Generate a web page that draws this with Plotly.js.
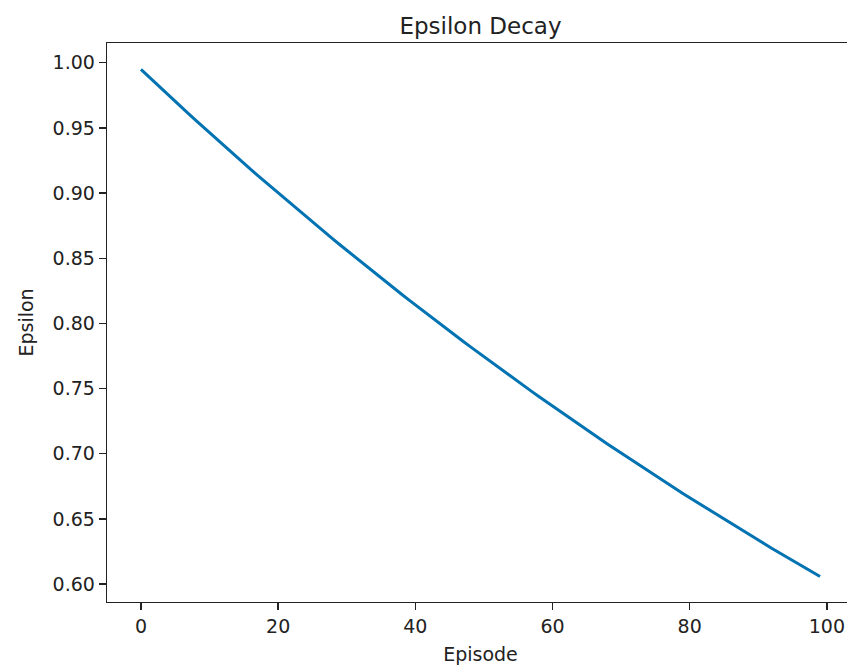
<!DOCTYPE html>
<html>
<head>
<meta charset="utf-8">
<script src="https://cdn.plot.ly/plotly-3.0.1.min.js"></script>
<style>
html,body{margin:0;padding:0;overflow:hidden;background:#fff;width:847px;height:669px;}
#chart{width:1000px;height:669px;}
</style>
</head>
<body>
<div id="chart"></div>
<script>
const episodes = [0,1,2,3,4,5,6,7,8,9,10,11,12,13,14,15,16,17,18,19,20,21,22,23,24,25,26,27,28,29,30,31,32,33,34,35,36,37,38,39,40,41,42,43,44,45,46,47,48,49,50,51,52,53,54,55,56,57,58,59,60,61,62,63,64,65,66,67,68,69,70,71,72,73,74,75,76,77,78,79,80,81,82,83,84,85,86,87,88,89,90,91,92,93,94,95,96,97,98,99];
const epsilon = [0.9950,0.9900,0.9851,0.9801,0.9752,0.9704,0.9655,0.9607,0.9559,0.9511,
0.9464,0.9416,0.9369,0.9322,0.9276,0.9229,0.9183,0.9137,0.9092,0.9046,
0.9001,0.8956,0.8911,0.8867,0.8822,0.8778,0.8734,0.8691,0.8647,0.8604,
0.8561,0.8518,0.8475,0.8433,0.8391,0.8349,0.8307,0.8266,0.8224,0.8183,
0.8142,0.8102,0.8061,0.8021,0.7981,0.7941,0.7901,0.7862,0.7822,0.7783,
0.7744,0.7705,0.7667,0.7629,0.7590,0.7553,0.7515,0.7477,0.7440,0.7403,
0.7366,0.7329,0.7292,0.7256,0.7219,0.7183,0.7147,0.7112,0.7076,0.7041,
0.7006,0.6970,0.6936,0.6901,0.6866,0.6832,0.6798,0.6764,0.6730,0.6696,
0.6663,0.6630,0.6597,0.6564,0.6531,0.6498,0.6466,0.6433,0.6401,0.6369,
0.6337,0.6306,0.6274,0.6243,0.6211,0.6180,0.6149,0.6119,0.6088,0.6058];
const xTicks = [0,20,40,60,80,100];
const yTicks = [0.60,0.65,0.70,0.75,0.80,0.85,0.90,0.95,1.00];
const yTickText = ["0.60","0.65","0.70","0.75","0.80","0.85","0.90","0.95","1.00"];

const font = "DejaVu Sans, sans-serif";
const trace = {
  x: episodes, y: epsilon, type: 'scatter', mode: 'lines',
  line: {color: '#0173b2', width: 3}, hoverinfo: 'skip'
};
const layout = {
  width: 1000, height: 669,
  margin: {l: 107, r: 146, t: 43, b: 67},
  paper_bgcolor: '#fff', plot_bgcolor: '#fff',
  showlegend: false,
  font: {family: font, color: '#222', size: 19},
  title: {text: 'Epsilon Decay', font: {family: font, size: 23, color: '#222'},
          x: 0.5, xref: 'paper', xanchor: 'center', y: 1, yref: 'paper', yanchor: 'bottom', pad: {b: 9}},
  xaxis: {
    range: [-4.95, 103.95], tickvals: xTicks, ticktext: xTicks.map(String),
    ticks: 'outside', ticklen: 7, tickwidth: 1.3, tickcolor: '#222',
    showgrid: false, zeroline: false, showline: true, mirror: true,
    linecolor: '#222', linewidth: 1.3,
    tickfont: {family: font, size: 19, color: '#222'},
    title: {text: 'Episode', font: {family: font, size: 19, color: '#222'}, standoff: 11}
  },
  yaxis: {
    range: [0.5863, 1.0152], tickvals: yTicks, ticktext: yTickText,
    ticks: 'outside', ticklen: 7, tickwidth: 1.3, tickcolor: '#222',
    showgrid: false, zeroline: false, showline: true, mirror: true,
    linecolor: '#222', linewidth: 1.3,
    tickfont: {family: font, size: 19, color: '#222'},
    title: {text: 'Epsilon', font: {family: font, size: 19, color: '#222'}, standoff: 14}
  }
};
Plotly.newPlot('chart', [trace], layout, {staticPlot: true, displayModeBar: false});
</script>
</body>
</html>
